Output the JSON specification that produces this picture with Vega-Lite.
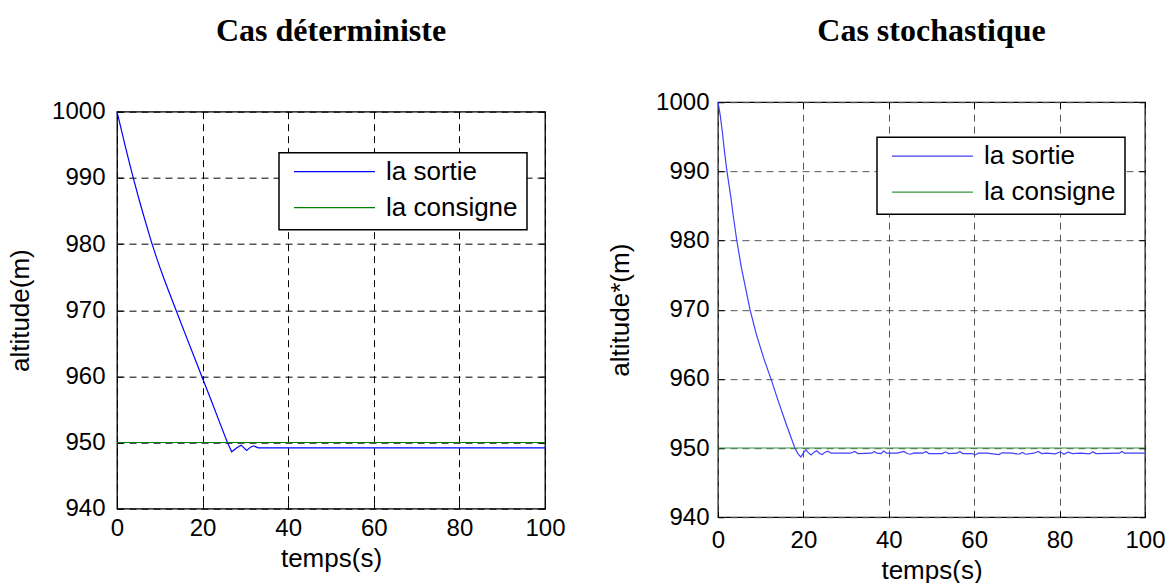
{
  "$schema": "https://vega.github.io/schema/vega-lite/v6.json",
  "background": "white",
  "padding": {"left": 6, "top": 14, "right": 0, "bottom": 0},
  "spacing": 40,
  "center": true,
  "config": {
    "view": {"stroke": "black", "strokeWidth": 1.3},
    "axis": {
      "labelFont": "Liberation Sans", "labelFontSize": 24, "labelColor": "black",
      "titleFont": "Liberation Sans", "titleFontSize": 26, "titleFontWeight": "normal", "titleColor": "black",
      "tickColor": "black", "tickWidth": 1, "domain": false, "format": "d",
      "labelFlush": false, "labelOverlap": false, "gridOpacity": 1, "gridWidth": 1
    },
    "title": {"font": "Liberation Serif", "fontSize": 32, "fontWeight": "bold", "color": "black", "anchor": "middle"},
    "legend": {
      "orient": "none", "title": null, "symbolType": "stroke", "symbolSize": 6561, "symbolStrokeWidth": 1.3,
      "labelFont": "Liberation Sans", "labelFontSize": 26, "labelColor": "black", "labelOffset": 10, "symbolOffset": 5,
      "strokeColor": "black", "fillColor": "white", "strokeWidth": 1.5, "padding": 9, "rowPadding": 10, "clipHeight": 20
    }
  },
  "datasets": {
    "det": [
      {"t": 0, "alt": 1000, "serie": "la sortie"},
      {"t": 1, "alt": 997.3, "serie": "la sortie"},
      {"t": 2, "alt": 994.6, "serie": "la sortie"},
      {"t": 3, "alt": 992.0, "serie": "la sortie"},
      {"t": 4, "alt": 989.5, "serie": "la sortie"},
      {"t": 5, "alt": 987.1, "serie": "la sortie"},
      {"t": 6, "alt": 984.8, "serie": "la sortie"},
      {"t": 7, "alt": 982.6, "serie": "la sortie"},
      {"t": 8, "alt": 980.4, "serie": "la sortie"},
      {"t": 9, "alt": 978.4, "serie": "la sortie"},
      {"t": 10, "alt": 976.5, "serie": "la sortie"},
      {"t": 11, "alt": 974.7, "serie": "la sortie"},
      {"t": 12, "alt": 973.0, "serie": "la sortie"},
      {"t": 13.8, "alt": 970, "serie": "la sortie"},
      {"t": 16, "alt": 966.3, "serie": "la sortie"},
      {"t": 18, "alt": 963, "serie": "la sortie"},
      {"t": 19.8, "alt": 960, "serie": "la sortie"},
      {"t": 22, "alt": 956.4, "serie": "la sortie"},
      {"t": 24, "alt": 953, "serie": "la sortie"},
      {"t": 25.8, "alt": 950, "serie": "la sortie"},
      {"t": 26.8, "alt": 948.6, "serie": "la sortie"},
      {"t": 28, "alt": 949.2, "serie": "la sortie"},
      {"t": 29, "alt": 949.6, "serie": "la sortie"},
      {"t": 30.3, "alt": 948.8, "serie": "la sortie"},
      {"t": 31.2, "alt": 949.3, "serie": "la sortie"},
      {"t": 31.9, "alt": 949.5, "serie": "la sortie"},
      {"t": 33, "alt": 949.2, "serie": "la sortie"},
      {"t": 100, "alt": 949.2, "serie": "la sortie"},
      {"t": 0, "alt": 950, "serie": "la consigne"},
      {"t": 100, "alt": 950, "serie": "la consigne"}
    ],
    "sto": [
      {"t": 0, "alt": 1000, "serie": "la sortie"},
      {"t": 0.5, "alt": 998.2, "serie": "la sortie"},
      {"t": 1, "alt": 995.8, "serie": "la sortie"},
      {"t": 1.5, "alt": 993, "serie": "la sortie"},
      {"t": 2.1, "alt": 990, "serie": "la sortie"},
      {"t": 3, "alt": 986.3, "serie": "la sortie"},
      {"t": 3.7, "alt": 983, "serie": "la sortie"},
      {"t": 4.4, "alt": 980, "serie": "la sortie"},
      {"t": 5.5, "alt": 976, "serie": "la sortie"},
      {"t": 6.5, "alt": 973, "serie": "la sortie"},
      {"t": 7.5, "alt": 970, "serie": "la sortie"},
      {"t": 9, "alt": 966.4, "serie": "la sortie"},
      {"t": 10.7, "alt": 963, "serie": "la sortie"},
      {"t": 12.4, "alt": 960, "serie": "la sortie"},
      {"t": 14, "alt": 957, "serie": "la sortie"},
      {"t": 16, "alt": 953.4, "serie": "la sortie"},
      {"t": 18, "alt": 950, "serie": "la sortie"},
      {"t": 18.7, "alt": 949.2, "serie": "la sortie"},
      {"t": 19.4, "alt": 948.7, "serie": "la sortie"},
      {"t": 20, "alt": 949.3, "serie": "la sortie"},
      {"t": 20.6, "alt": 949.75, "serie": "la sortie"},
      {"t": 21.2, "alt": 949.3, "serie": "la sortie"},
      {"t": 21.8, "alt": 949.0, "serie": "la sortie"},
      {"t": 22.5, "alt": 949.4, "serie": "la sortie"},
      {"t": 23.1, "alt": 949.6, "serie": "la sortie"},
      {"t": 23.8, "alt": 949.2, "serie": "la sortie"},
      {"t": 24.4, "alt": 949.05, "serie": "la sortie"},
      {"t": 25.1, "alt": 949.4, "serie": "la sortie"},
      {"t": 25.7, "alt": 949.55, "serie": "la sortie"},
      {"t": 26.5, "alt": 949.25, "serie": "la sortie"},
      {"t": 31, "alt": 949.25, "serie": "la sortie"},
      {"t": 32, "alt": 949.5, "serie": "la sortie"},
      {"t": 32.8, "alt": 949.2, "serie": "la sortie"},
      {"t": 36, "alt": 949.25, "serie": "la sortie"},
      {"t": 36.6, "alt": 949.5, "serie": "la sortie"},
      {"t": 37.2, "alt": 949.25, "serie": "la sortie"},
      {"t": 38.2, "alt": 949.2, "serie": "la sortie"},
      {"t": 38.8, "alt": 949.55, "serie": "la sortie"},
      {"t": 39.5, "alt": 949.25, "serie": "la sortie"},
      {"t": 42, "alt": 949.25, "serie": "la sortie"},
      {"t": 43.5, "alt": 949.5, "serie": "la sortie"},
      {"t": 44.3, "alt": 949.2, "serie": "la sortie"},
      {"t": 45, "alt": 949.1, "serie": "la sortie"},
      {"t": 46, "alt": 949.3, "serie": "la sortie"},
      {"t": 48, "alt": 949.25, "serie": "la sortie"},
      {"t": 48.7, "alt": 949.5, "serie": "la sortie"},
      {"t": 49.4, "alt": 949.2, "serie": "la sortie"},
      {"t": 52.5, "alt": 949.2, "serie": "la sortie"},
      {"t": 53.3, "alt": 949.45, "serie": "la sortie"},
      {"t": 54, "alt": 949.2, "serie": "la sortie"},
      {"t": 56, "alt": 949.25, "serie": "la sortie"},
      {"t": 56.6, "alt": 949.5, "serie": "la sortie"},
      {"t": 57.3, "alt": 949.2, "serie": "la sortie"},
      {"t": 59.5, "alt": 949.2, "serie": "la sortie"},
      {"t": 60.2, "alt": 949.0, "serie": "la sortie"},
      {"t": 61, "alt": 949.25, "serie": "la sortie"},
      {"t": 63, "alt": 949.25, "serie": "la sortie"},
      {"t": 65.8, "alt": 949.05, "serie": "la sortie"},
      {"t": 66.5, "alt": 949.3, "serie": "la sortie"},
      {"t": 69, "alt": 949.25, "serie": "la sortie"},
      {"t": 70.5, "alt": 949.1, "serie": "la sortie"},
      {"t": 71.3, "alt": 949.35, "serie": "la sortie"},
      {"t": 72, "alt": 949.1, "serie": "la sortie"},
      {"t": 74, "alt": 949.25, "serie": "la sortie"},
      {"t": 75, "alt": 949.5, "serie": "la sortie"},
      {"t": 75.8, "alt": 949.2, "serie": "la sortie"},
      {"t": 77, "alt": 949.25, "serie": "la sortie"},
      {"t": 79, "alt": 949.15, "serie": "la sortie"},
      {"t": 80.2, "alt": 949.45, "serie": "la sortie"},
      {"t": 81, "alt": 949.1, "serie": "la sortie"},
      {"t": 82, "alt": 949.4, "serie": "la sortie"},
      {"t": 83, "alt": 949.2, "serie": "la sortie"},
      {"t": 85, "alt": 949.25, "serie": "la sortie"},
      {"t": 87, "alt": 949.15, "serie": "la sortie"},
      {"t": 87.8, "alt": 949.45, "serie": "la sortie"},
      {"t": 88.5, "alt": 949.2, "serie": "la sortie"},
      {"t": 94, "alt": 949.25, "serie": "la sortie"},
      {"t": 94.6, "alt": 949.5, "serie": "la sortie"},
      {"t": 95.2, "alt": 949.25, "serie": "la sortie"},
      {"t": 100, "alt": 949.25, "serie": "la sortie"},
      {"t": 0, "alt": 950, "serie": "la consigne"},
      {"t": 100, "alt": 950, "serie": "la consigne"}
    ]
  },
  "hconcat": [
    {
      "title": {"text": "Cas déterministe", "offset": 52},
      "width": 428,
      "height": 397,
      "data": {"name": "det"},
      "layer": [
        {
          "mark": {"type": "line", "strokeWidth": 1.2},
          "encoding": {
            "x": {"field": "t", "type": "quantitative", "scale": {"domain": [0, 100], "nice": false},
              "axis": {"orient": "bottom", "title": ["temps(s)", " "], "titleLineHeight": 2, "values": [0, 20, 40, 60, 80, 100], "grid": true, "gridColor": "black", "gridDash": [7, 5], "tickSize": -6, "labelPadding": 14, "titlePadding": 5}},
            "y": {"field": "alt", "type": "quantitative", "scale": {"domain": [940, 1000], "nice": false, "zero": false},
              "axis": {"orient": "left", "title": "altitude(m)", "values": [940, 950, 960, 970, 980, 990, 1000], "grid": true, "gridColor": "black", "gridDash": [7, 5], "tickSize": -6, "labelPadding": 18, "titlePadding": 18}},
            "color": {"field": "serie", "type": "nominal",
              "scale": {"domain": ["la sortie", "la consigne"], "range": ["#0000ff", "#008000"]},
              "legend": {"legendX": 162, "legendY": 41}}
          }
        },
        {
          "mark": {"type": "line", "opacity": 0},
          "encoding": {
            "x": {"field": "t", "type": "quantitative",
              "axis": {"orient": "top", "title": null, "labels": false, "grid": false, "values": [0, 20, 40, 60, 80, 100], "tickSize": -6}},
            "y": {"field": "alt", "type": "quantitative",
              "axis": {"orient": "right", "title": null, "labels": false, "grid": false, "values": [940, 950, 960, 970, 980, 990, 1000], "tickSize": -6}}
          }
        }
      ],
      "resolve": {"axis": {"x": "independent", "y": "independent"}}
    },
    {
      "title": {"text": "Cas stochastique", "offset": 42},
      "width": 427,
      "height": 415,
      "data": {"name": "sto"},
      "layer": [
        {
          "mark": {"type": "line", "strokeWidth": 1.2},
          "encoding": {
            "x": {"field": "t", "type": "quantitative", "scale": {"domain": [0, 100], "nice": false},
              "axis": {"orient": "bottom", "title": "temps(s)", "values": [0, 20, 40, 60, 80, 100], "grid": true, "gridColor": "#555555", "gridDash": [7, 5], "tickSize": -6, "labelPadding": 17, "titlePadding": 5}},
            "y": {"field": "alt", "type": "quantitative", "scale": {"domain": [940, 1000], "nice": false, "zero": false},
              "axis": {"orient": "left", "title": "altitude*(m)", "values": [940, 950, 960, 970, 980, 990, 1000], "grid": true, "gridColor": "#555555", "gridDash": [7, 5], "tickSize": -6, "labelPadding": 15, "titlePadding": 22}},
            "color": {"field": "serie", "type": "nominal",
              "scale": {"domain": ["la sortie", "la consigne"], "range": ["#4040ff", "#35983a"]},
              "legend": {"legendX": 159, "legendY": 35}}
          }
        },
        {
          "mark": {"type": "line", "opacity": 0},
          "encoding": {
            "x": {"field": "t", "type": "quantitative",
              "axis": {"orient": "top", "title": null, "labels": false, "grid": false, "values": [0, 20, 40, 60, 80, 100], "tickSize": -6}},
            "y": {"field": "alt", "type": "quantitative",
              "axis": {"orient": "right", "title": null, "labels": false, "grid": false, "values": [940, 950, 960, 970, 980, 990, 1000], "tickSize": -6}}
          }
        }
      ],
      "resolve": {"axis": {"x": "independent", "y": "independent"}}
    }
  ],
  "resolve": {"scale": {"color": "independent"}, "legend": {"color": "independent"}}
}
